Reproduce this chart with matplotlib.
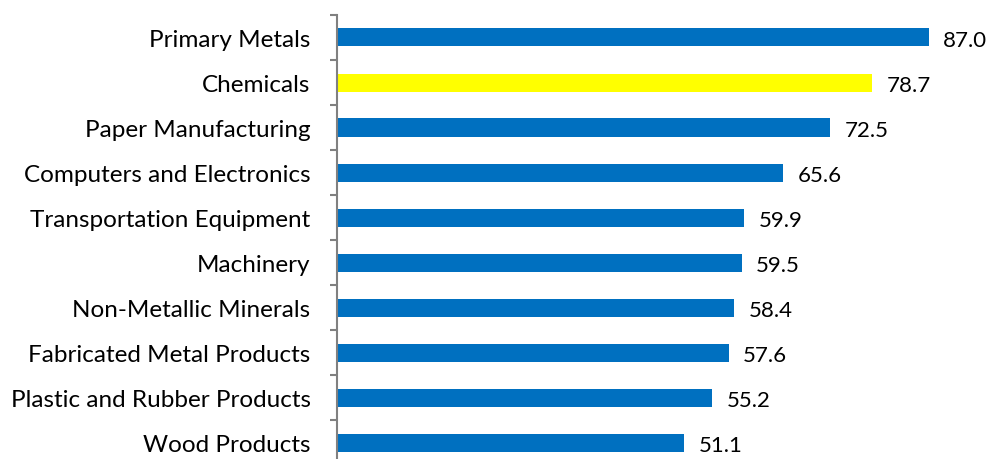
import numpy as np
import matplotlib.pyplot as plt

industries = [
    "Primary Metals",
    "Chemicals",
    "Paper Manufacturing",
    "Computers and Electronics",
    "Transportation Equipment",
    "Machinery",
    "Non-Metallic Minerals",
    "Fabricated Metal Products",
    "Plastic and Rubber Products",
    "Wood Products",
]
values = [87.0, 78.7, 72.5, 65.6, 59.9, 59.5, 58.4, 57.6, 55.2, 51.1]
highlight = "Chemicals"

plt.rcParams["font.family"] = ["Lato", "DejaVu Sans"]

fig = plt.figure(figsize=(9.95, 4.6), dpi=100)
ax = fig.add_axes([337 / 995, -6 / 460, 646 / 995, 450 / 460])

y_pos = np.arange(len(industries))[::-1]
colors = ["#FFFF00" if name == highlight else "#0070C0" for name in industries]
ax.barh(y_pos, values, height=0.4, color=colors)

for y, v in zip(y_pos, values):
    ax.text(v + 2.1, y - 0.05, f"{v:.1f}", va="center", ha="left", fontsize=16)

ax.set_xlim(0, 95)
ax.set_ylim(-0.5, len(industries) - 0.5)
ax.set_yticks(y_pos, labels=industries, fontsize=17.5)
ax.set_yticks(np.arange(len(industries) + 1) - 0.5, minor=True)
ax.tick_params(axis="y", which="major", length=0, pad=19)
ax.tick_params(axis="y", which="minor", length=5, width=1.5, color="#808080")
ax.set_xticks([])

for side in ["top", "right", "bottom"]:
    ax.spines[side].set_visible(False)
ax.spines["left"].set_color("#808080")
ax.spines["left"].set_linewidth(1.5)

fig.savefig("out.png", dpi=100)
